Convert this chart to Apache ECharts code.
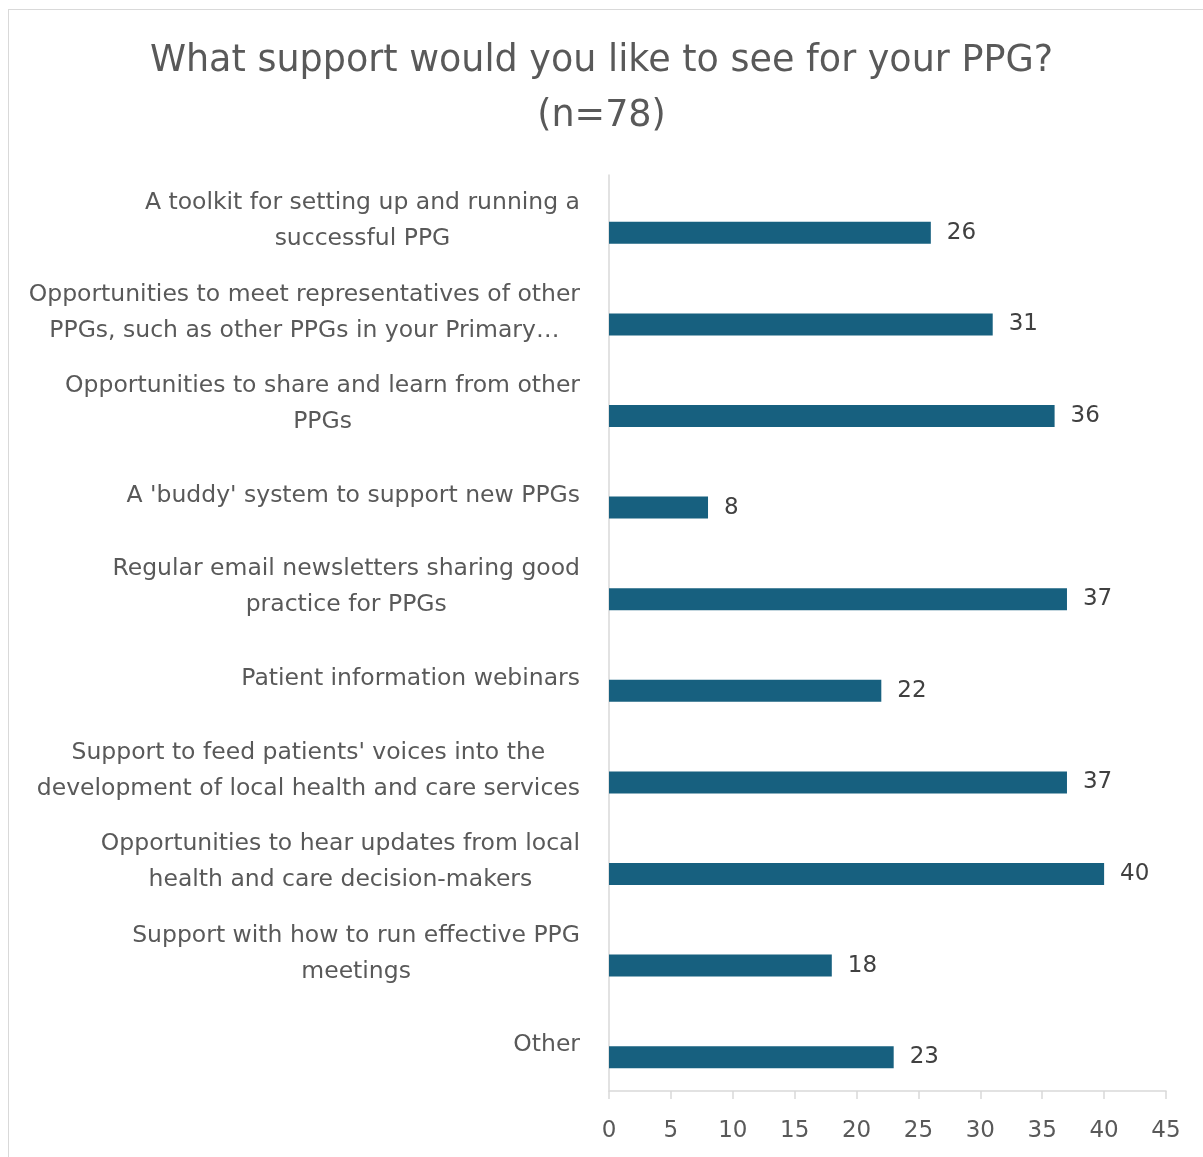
<!DOCTYPE html>
<html lang="en">
<head>
    <meta charset="UTF-8">
    <title>What support would you like to see for your PPG?</title>
    <script src="https://cdn.jsdelivr.net/npm/echarts@6/dist/echarts.min.js"></script>
    <style>
        body {
            margin: 0;
            padding: 0;
            background: #ffffff;
        }

        #frame {
            position: absolute;
            left: 8px;
            top: 9px;
            width: 1195px;
            height: 1148px;
            border-left: 1px solid #d9d9d9;
            border-top: 1px solid #d9d9d9;
        }

        #chartContainer {
            position: absolute;
            left: 0;
            top: 0;
            width: 1203px;
            height: 1157px;
        }
    </style>
</head>
<body>
    <div id="frame"></div>
    <div id="chartContainer"></div>

    <script>
        // answer options, already broken into the lines used in the picture
        var categories = [
            'A toolkit for setting up and running a\nsuccessful PPG',
            'Opportunities to meet representatives of other\nPPGs, such as other PPGs in your Primary…',
            'Opportunities to share and learn from other\nPPGs',
            "A 'buddy' system to support new PPGs",
            'Regular email newsletters sharing good\npractice for PPGs',
            'Patient information webinars',
            "Support to feed patients' voices into the\ndevelopment of local health and care services",
            'Opportunities to hear updates from local\nhealth and care decision-makers',
            'Support with how to run effective PPG\nmeetings',
            'Other'
        ];
        var counts = [26, 31, 36, 8, 37, 22, 37, 40, 18, 23];
        var blanks = ['-', '-', '-', '-', '-', '-', '-', '-', '-', '-'];

        var fontName = '"DejaVu Sans", "Noto Sans", sans-serif';

        var chartDom = document.getElementById('chartContainer');
        var myChart = echarts.init(chartDom);

        var option = {
            animation: false,
            textStyle: { fontFamily: fontName },
            title: {
                text: 'What support would you like to see for your PPG?\n(n=78)',
                left: 'center',
                top: 29,
                textStyle: {
                    fontFamily: fontName,
                    fontSize: 36.5,
                    fontWeight: 'normal',
                    color: '#595959',
                    lineHeight: 55
                }
            },
            grid: {
                left: 609,
                right: 37,
                top: 175,
                bottom: 66
            },
            xAxis: {
                type: 'value',
                min: 0,
                max: 45,
                interval: 5,
                splitLine: { show: false },
                axisLine: { show: true, lineStyle: { color: '#d9d9d9', width: 1.5 } },
                axisTick: { show: true, length: 8, lineStyle: { color: '#d9d9d9', width: 1.5 } },
                axisLabel: {
                    margin: 29,
                    fontSize: 23,
                    color: '#595959',
                    fontFamily: fontName
                }
            },
            yAxis: {
                type: 'category',
                inverse: true,
                data: categories,
                axisLine: { show: true, lineStyle: { color: '#d9d9d9', width: 1.5 } },
                axisTick: { show: false },
                axisLabel: {
                    margin: 29,
                    interval: 0,
                    color: '#595959',
                    fontSize: 23.5,
                    fontFamily: fontName,
                    formatter: function (value) {
                        return value.split('\n').map(function (line) {
                            return '{c|' + line + '}';
                        }).join('\n');
                    },
                    rich: {
                        c: {
                            align: 'center',
                            fontSize: 23.5,
                            lineHeight: 36,
                            color: '#595959',
                            fontFamily: fontName
                        }
                    }
                }
            },
            series: [
                {
                    // empty series, only used to push the real bars below the band centre
                    name: 'spacer',
                    type: 'bar',
                    data: blanks,
                    barWidth: 22,
                    barGap: '9%',
                    silent: true
                },
                {
                    name: 'Responses',
                    type: 'bar',
                    data: counts,
                    barWidth: 22,
                    itemStyle: { color: '#17607f' },
                    label: {
                        show: true,
                        position: 'right',
                        distance: 16,
                        fontSize: 23,
                        color: '#404040',
                        fontFamily: fontName
                    }
                }
            ]
        };

        option && myChart.setOption(option);
    </script>
</body>
</html>
